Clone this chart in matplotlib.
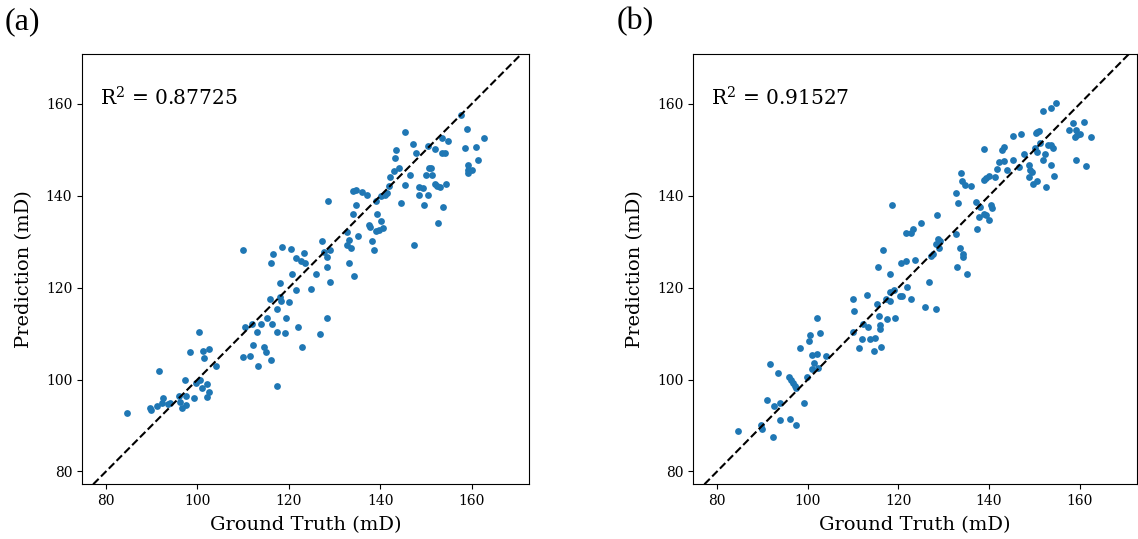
import matplotlib
matplotlib.use('Agg')
import matplotlib.pyplot as plt

plt.rcParams['font.family'] = 'DejaVu Serif'
plt.rcParams['mathtext.fontset'] = 'dejavuserif'

# (a) ground truth / prediction
truth_a = [84.7, 89.6, 89.9, 91.2, 91.7, 92.4, 92.2, 93.5, 93.9, 95.9, 96.1, 96.6, 97.4, 97.6, 97.2,
           98.3, 99.2, 99.7, 100.3, 100.6, 100.9, 101.2, 101.4, 102.0, 102.5, 102.0, 102.6, 104.1,
           110.0, 110.4, 111.5, 112.0, 112.2, 113.1, 113.3, 113.8, 114.6, 114.9, 115.2,
           116.0, 116.6, 118.5, 120.5, 121.6, 122.7, 123.3, 123.6, 120.7, 118.1, 121.6, 115.9,
           118.1, 118.3, 120.1, 117.3, 119.4, 116.3, 117.4, 119.1, 122.0, 122.8, 116.0, 117.5,
           124.9, 125.9, 126.9, 128.3, 129.0, 128.4, 128.3, 127.7, 129.0, 127.3, 128.5,
           133.1, 134.2, 132.7, 133.5, 133.2, 132.7, 135.2, 134.0, 134.6, 134.0, 134.7, 136.1,
           137.2, 139.3, 137.5, 137.8, 138.2, 138.6, 139.1, 139.7, 140.5, 140.1, 139.1, 140.1,
           141.0, 141.5, 142.0, 144.5, 145.4, 147.4, 148.5, 148.5,
           157.6, 158.9, 162.6, 145.4, 147.1, 147.8, 150.4, 151.9, 153.6, 154.9, 153.6, 154.2,
           158.6, 160.9, 161.4, 159.1, 159.2, 160.0, 159.1, 146.6, 150.7, 151.2, 150.1, 151.3,
           149.3, 150.5, 151.9, 152.3, 153.0, 154.4, 149.5, 153.7, 152.6,
           110.0, 143.5, 143.2, 144.0, 142.9, 142.1]
pred_a = [92.7, 93.8, 93.3, 94.3, 101.8, 96.0, 95.0, 94.7, 95.0, 96.5, 95.1, 93.8, 94.4, 96.5, 100.0,
          105.9, 95.9, 99.2, 110.4, 99.8, 98.1, 106.2, 104.6, 99.0, 97.4, 96.2, 106.6, 102.9,
          105.0, 111.4, 105.2, 112.2, 107.5, 110.4, 102.9, 112.2, 107.1, 106.1, 113.5,
          125.4, 127.4, 128.8, 128.5, 126.5, 125.8, 127.6, 125.3, 123.0, 121.1, 119.6, 117.6,
          118.0, 117.0, 116.9, 115.4, 113.5, 112.0, 110.3, 110.2, 111.4, 107.0, 104.3, 98.6,
          119.8, 123.0, 109.9, 113.3, 121.3, 124.6, 126.7, 127.8, 128.1, 130.1, 138.9,
          125.3, 122.6, 129.3, 128.6, 130.3, 132.1, 131.2, 136.1, 138.0, 141.0, 141.2, 140.8,
          140.2, 136.1, 133.7, 133.1, 130.2, 128.3, 132.3, 132.5, 132.9, 134.5, 138.9, 139.9,
          140.2, 140.5, 142.1, 138.5, 142.4, 129.2, 141.9, 140.1,
          157.6, 154.5, 152.6, 153.9, 151.2, 149.4, 150.8, 150.1, 152.5, 152.0, 149.4, 149.4,
          150.3, 150.6, 147.8, 146.7, 145.7, 145.6, 144.9, 144.6, 146.1, 146.1, 144.6, 144.6,
          141.7, 140.2, 142.5, 142.2, 141.9, 142.5, 138.0, 137.5, 134.0,
          128.3, 149.9, 148.3, 146.1, 145.5, 144.1]

# (b) ground truth / prediction
truth_b = [84.7, 89.7, 90.0, 92.3, 91.1, 92.5, 93.8, 93.9, 91.7, 93.5, 95.9, 96.4, 96.7, 97.2, 97.5,
           96.0, 97.3, 99.1, 99.8, 98.3, 101.0, 101.3, 102.2, 101.0, 102.0, 104.0, 100.2, 100.4,
           102.6, 102.0, 110.0, 110.3, 109.9, 112.0, 111.4, 112.3, 113.2, 113.7, 114.9, 114.7,
           116.2, 115.9, 115.9, 115.7, 117.4, 115.2, 119.3, 113.0,
           117.3, 118.2, 118.2, 119.0, 120.3, 120.8, 122.8, 121.9, 115.5, 118.2, 116.6, 118.5,
           120.6, 121.7, 123.6, 121.6, 122.7, 123.3, 124.9, 125.9, 128.3, 126.8, 127.3, 127.6,
           128.3, 128.7, 129.1, 128.9, 128.5, 132.7, 133.1, 132.8, 133.5, 134.2, 134.3, 133.0,
           135.2, 134.1, 134.6, 136.0, 137.2, 137.7, 137.4, 138.1, 138.9, 139.4, 140.0, 140.5,
           140.6, 138.9, 143.3, 142.9, 142.1, 143.2, 141.8, 141.4, 139.9, 139.3, 138.9, 133.9,
           154.8, 153.6, 151.9, 158.5, 161.0, 157.6, 159.1, 160.0, 159.4, 158.9, 162.6, 159.1,
           161.3, 151.0, 150.6, 150.3, 145.3, 147.0, 151.3, 150.1, 153.1, 153.6, 154.2, 150.6,
           152.3, 147.8, 145.3, 151.9, 153.6, 144.0, 146.6, 148.8, 149.1, 149.4, 148.9, 150.5,
           149.6, 152.6, 154.3]
pred_b = [88.8, 90.0, 89.2, 87.6, 95.6, 94.3, 95.0, 91.3, 103.4, 101.4, 100.5, 99.8, 99.3, 98.7, 98.1,
          91.5, 90.0, 95.0, 100.5, 106.9, 102.2, 103.6, 102.6, 105.3, 105.6, 105.2, 108.5, 109.6,
          110.2, 113.4, 117.5, 114.9, 110.3, 108.8, 106.8, 112.2, 111.4, 108.8, 109.1, 106.3,
          107.0, 110.9, 111.8, 113.8, 113.2, 116.5, 113.3, 118.3,
          117.5, 117.0, 119.1, 119.4, 118.1, 118.1, 117.6, 120.2, 124.4, 123.0, 128.3, 138.1,
          125.4, 125.8, 126.0, 132.0, 131.8, 132.8, 134.0, 115.7, 115.4, 121.2, 126.9, 127.4,
          129.6, 130.5, 130.2, 128.6, 135.8, 140.5, 138.5, 131.7, 128.6, 127.4, 126.6, 124.5,
          122.9, 143.2, 142.4, 142.1, 138.7, 135.4, 132.7, 137.6, 136.0, 135.9, 134.7, 138.0,
          137.4, 150.2, 150.7, 149.9, 147.3, 147.6, 145.9, 144.1, 144.4, 143.8, 143.5, 145.0,
          160.2, 159.2, 158.5, 155.8, 156.1, 154.3, 154.3, 153.4, 153.2, 152.8, 152.8, 147.8,
          146.4, 154.2, 153.8, 153.6, 153.1, 153.4, 151.6, 150.4, 151.0, 151.1, 150.3, 149.6,
          149.1, 149.2, 147.9, 147.7, 146.7, 145.6, 146.3, 146.7, 145.7, 145.1, 144.1, 143.2,
          142.5, 141.9, 144.4]

r2_texts = ['0.87725', '0.91527']
panel_labels = ['(a)', '(b)']

fig = plt.figure(figsize=(11.38, 5.39), dpi=100)
W, H = 1138.0, 539.0
ax_a = fig.add_axes([82 / W, 1 - 484.3 / H, 447.3 / W, 430 / H])
ax_b = fig.add_axes([693.3 / W, 1 - 484.3 / H, 443.5 / W, 430 / H])

for ax, xs, ys, r2, lab in zip([ax_a, ax_b], [truth_a, truth_b], [pred_a, pred_b], r2_texts, panel_labels):
    ax.scatter(xs, ys, s=24, color='#1f77b4', linewidths=0, zorder=2)
    ax.plot([77.2, 170.8], [77.2, 170.8], 'k--', lw=1.5, zorder=3)
    ax.set_xlim(74.75, 172.6)
    ax.set_ylim(77.2, 170.8)
    ax.set_xticks([80, 100, 120, 140, 160])
    ax.set_yticks([80, 100, 120, 140, 160])
    ax.tick_params(labelsize=10)
    ax.set_xlabel('Ground Truth (mD)', fontsize=14, labelpad=6)
    ax.set_ylabel('Prediction (mD)', fontsize=14, labelpad=9)
    ax.text(0.04, 0.88, 'R$^2$ = ' + r2, transform=ax.transAxes, fontsize=14.5,
            ha='left', va='baseline')
    ax.text(-0.172, 1.059, lab, transform=ax.transAxes, fontsize=23,
            family='Liberation Serif', ha='left', va='baseline')

fig.savefig('out.png', dpi=100)
